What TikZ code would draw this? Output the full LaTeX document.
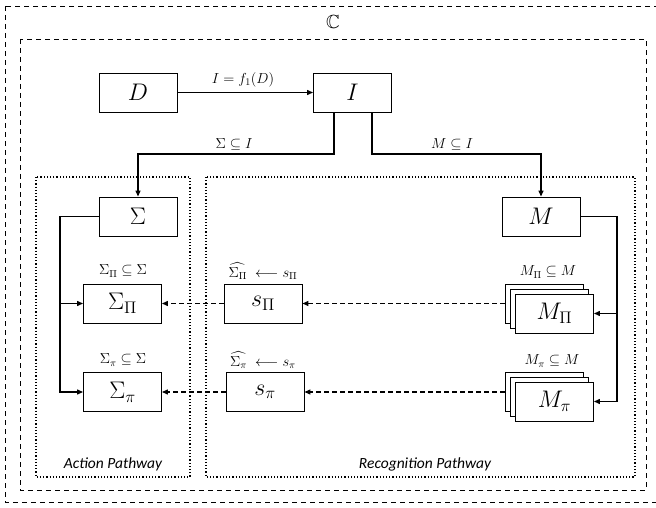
\RequirePackage{fix-cm}
\documentclass[tikz,border=0pt]{standalone}
\usepackage{amssymb}
\usepackage{fontspec}
\newfontfamily\calib{Carlito}
\usetikzlibrary{arrows.meta}
\begin{document}
\begin{tikzpicture}[x=1pt,y=-1pt,
  box/.style={draw, line width=0.9pt, minimum width=78pt, minimum height=39pt, inner sep=0pt, fill=white, font=\fontsize{24}{28}\selectfont},
  conn/.style={line width=1.3pt, -{Triangle[length=6pt,width=5pt]}},
  dconn/.style={line width=1.3pt, dash pattern=on 5pt off 3pt, -{Triangle[length=6pt,width=5pt]}},
  lbl/.style={font=\fontsize{14.5}{16}\selectfont, inner sep=0pt},
  outerdash/.style={line width=0.9pt, dash pattern=on 5pt off 4pt},
  dotbox/.style={line width=1.2pt, dotted},
  pathlbl/.style={font=\calib\itshape\fontsize{15.5}{18}\selectfont, inner sep=0pt}
]
\useasboundingbox (0,0) rectangle (656,508);
% outer frames
\draw[outerdash] (5,6) rectangle (664,502);
\draw[outerdash] (20,39) rectangle (646,490);
\node[font=\fontsize{19}{21}\selectfont, inner sep=0pt] (C) at (333,22) {$\mathbb{C}$};
% pathway boxes
\draw[dotbox] (36,177) rectangle (190,477);
\draw[dotbox] (206,177) rectangle (635,477);
\node[pathlbl] (AP) at (113,464) {Action Pathway};
\node[pathlbl] (RP) at (425,464) {Recognition Pathway};
% top nodes
\node[box] (D) at (138,92.5) {$D$};
\node[box] (I) at (352.5,92.5) {$I$};
\draw[conn] (D) -- (I);
\node[lbl] (lDI) at (243,80) {$I = f_1(D)$};
% sigma and M
\node[box] (S) at (138,216.5) {$\Sigma$};
\node[box] (M) at (541,216.5) {$M$};
\draw[conn] ([xshift=-18.5pt]I.south) -- ++(0,41.5) coordinate (jl) -| (S.north);
\draw[conn] ([xshift=19.5pt]I.south) -- ++(0,41.5) coordinate (jr) -| (M.north);
\node[lbl] (lSI) at (234,145) {$\Sigma \subseteq I$};
\node[lbl] (lMI) at (452,145) {$M \subseteq I$};
% left column
\node[box] (SP) at (122.5,303.5) {$\Sigma_\Pi$};
\node[box] (Sp) at (122.5,392) {$\Sigma_\pi$};
\node[lbl] (lSP) at (123,271) {$\Sigma_\Pi \subseteq \Sigma$};
\node[lbl] (lSp) at (123,360) {$\Sigma_\pi \subseteq \Sigma$};
\coordinate (lx) at (60,0);
\draw[conn] (S.west) -- (S.west -| lx) |- (Sp.west);
\draw[conn] (lx |- SP.west) -- (SP.west);
% middle column
\node[box] (sP) at (263,303.5) {$s_\Pi$};
\node[box] (sp) at (265,392) {$s_\pi$};
\node[lbl] (lsP) at (263,271) {$\widehat{\Sigma_\Pi}\;\longleftarrow s_\Pi$};
\node[lbl] (lsp) at (263,360) {$\widehat{\Sigma_\pi}\;\longleftarrow s_\pi$};
% right stacks
\node[box] (MPb) at (544,303.5) {};
\node[box] (MPm) at (549.5,308.5) {};
\node[box] (MP) at (554.5,313.5) {$M_\Pi$};
\node[box] (Mpb) at (544,392) {};
\node[box] (Mpm) at (549.5,397) {};
\node[box] (Mp) at (554.5,401.5) {$M_\pi$};
\node[lbl] (lMP) at (548,272) {$M_\Pi \subseteq M$};
\node[lbl] (lMp) at (552,361) {$M_\pi \subseteq M$};
\coordinate (rx) at (617,0);
\draw[line width=1.3pt] (M.east) -- (M.east -| rx) -- (rx |- Mp.east);
\draw[conn] (rx |- MP.east) -- (MP.east);
\draw[conn] (rx |- Mp.east) -- (Mp.east);
% dashed arrows
\draw[dconn] (MPb.west) -- (sP.east);
\draw[dconn] (sP.west) -- (SP.east);
\draw[dconn] (Mpb.west) -- (sp.east);
\draw[dconn] (sp.west) -- (Sp.east);
\end{tikzpicture}
\end{document}
